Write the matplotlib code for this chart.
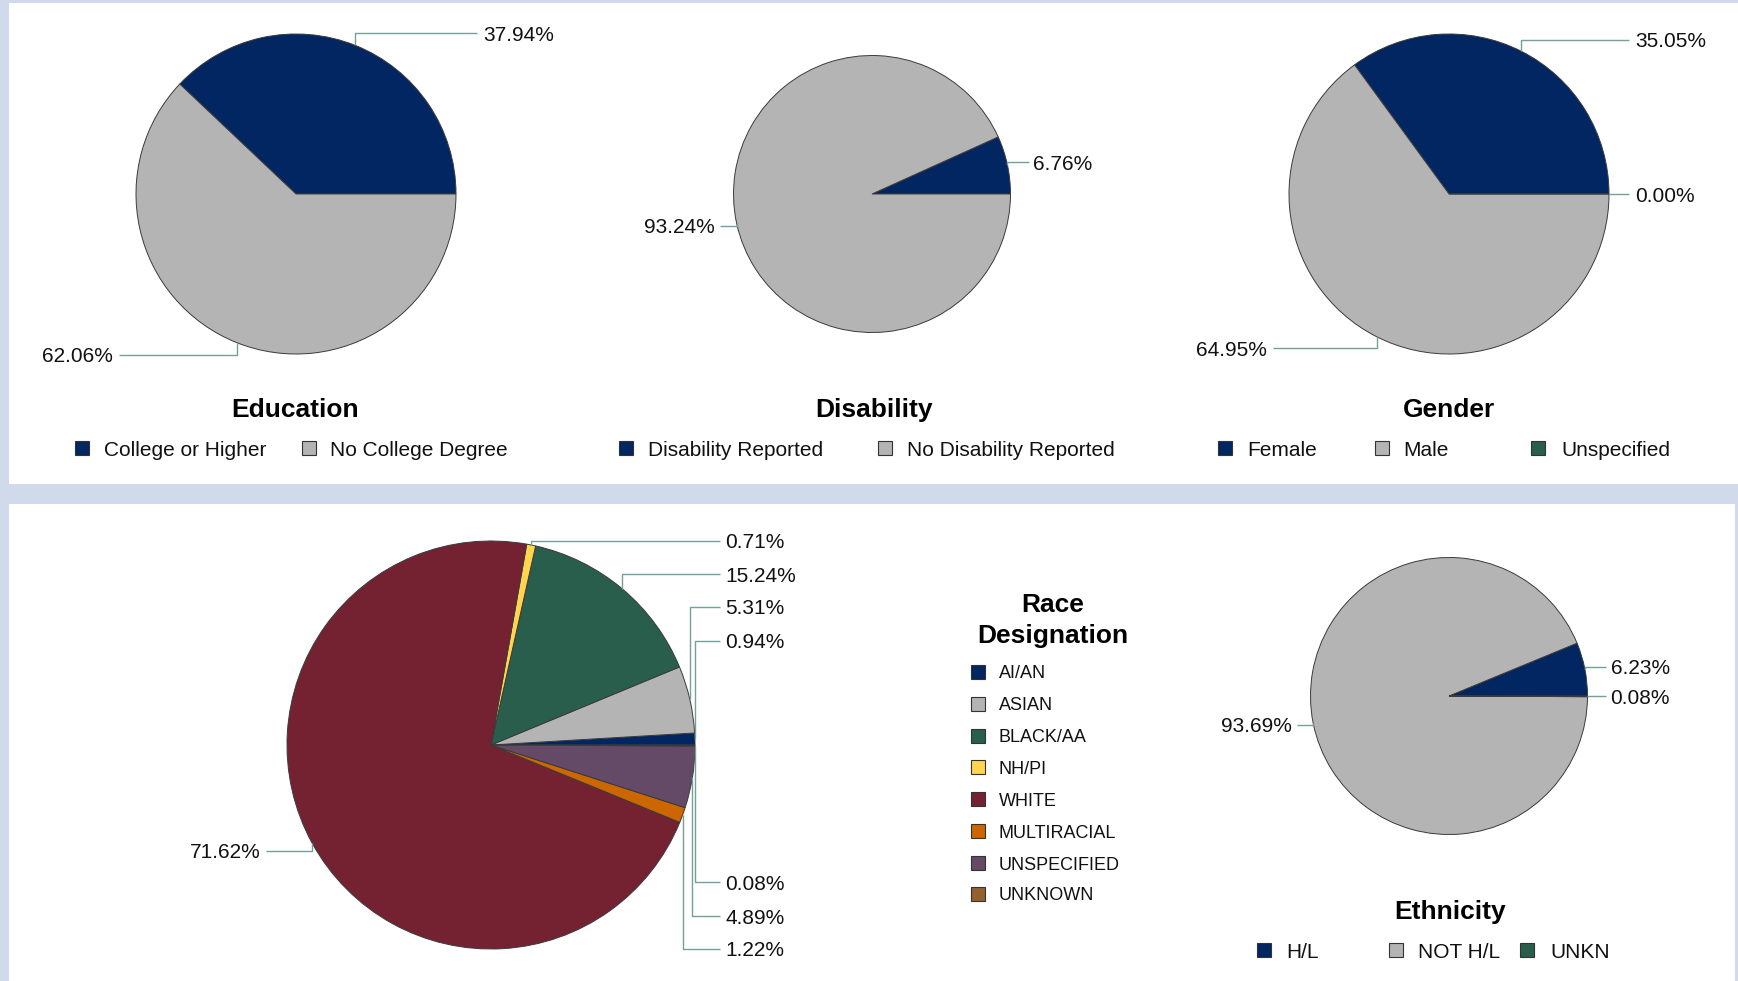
import numpy as np
import matplotlib
matplotlib.use('Agg')
import matplotlib.pyplot as plt
from matplotlib.patches import Rectangle

plt.rcParams['font.family'] = ['Liberation Sans', 'DejaVu Sans']

# ---------------- data ----------------
edu_labels = ['College or Higher', 'No College Degree']
edu_values = [37.94, 62.06]

dis_labels = ['Disability Reported', 'No Disability Reported']
dis_values = [6.76, 93.24]

gen_labels = ['Female', 'Male', 'Unspecified']
gen_values = [35.05, 64.95, 0.00]

race_labels = ['AI/AN', 'ASIAN', 'BLACK/AA', 'NH/PI', 'WHITE',
               'MULTIRACIAL', 'UNSPECIFIED', 'UNKNOWN']
race_values = [0.94, 5.31, 15.24, 0.71, 71.62, 1.22, 4.89, 0.08]

eth_labels = ['H/L', 'NOT H/L', 'UNKN']
eth_values = [6.23, 93.69, 0.08]

# ---------------- styles ----------------
NAVY = '#012661'
GRAY = '#b4b4b4'
GREEN = '#2a5e4c'
YELLOW = '#ffd54f'
MAROON = '#742232'
ORANGE = '#cc6600'
PURPLE = '#644a66'
BROWN = '#94602e'
LEAD = '#74a098'
EDGE = '#3a3a3a'
BG = '#d0daea'

two_cols = [NAVY, GRAY]
three_cols = [NAVY, GRAY, GREEN]
race_cols = [NAVY, GRAY, GREEN, YELLOW, MAROON, ORANGE, PURPLE, BROWN]

W, H = 1738, 981
TDY = 2  # text nudge downward (px)
LEFT_TRIM = 4  # left-side labels sit slightly closer to the pie
fig = plt.figure(figsize=(W / 100, H / 100), dpi=100)
fig.patch.set_facecolor(BG)
ax = fig.add_axes([0, 0, 1, 1])


def Y(y):
    return H - y


# panels
ax.add_patch(Rectangle((9, Y(484)), W - 9, 481, facecolor='white', edgecolor='none', zorder=0))
ax.add_patch(Rectangle((9, 0), W - 12, Y(504), facecolor='white', edgecolor='none', zorder=0))


def draw_pie(values, colors, cx, cy, r, line_gap=20, text_gap=25, label_ys=None):
    ax.pie(values, colors=colors, startangle=0, counterclock=True,
           center=(cx, Y(cy)), radius=r, normalize=True,
           wedgeprops=dict(edgecolor=EDGE, linewidth=0.7))
    total = float(sum(values))
    cum = np.concatenate([[0], np.cumsum(values)]) / total * 360.0
    for i, v in enumerate(values):
        mid = np.deg2rad((cum[i] + cum[i + 1]) / 2.0)
        ex = cx + r * np.cos(mid)
        ey = Y(cy) + r * np.sin(mid)
        if label_ys is not None and label_ys[i] is not None:
            ly = Y(label_ys[i])
        else:
            ly = Y(cy) + 1.08 * r * np.sin(mid)
        right = np.cos(mid) >= -1e-9
        if right:
            lend = cx + r + line_gap
            tx = cx + r + text_gap
            ha = 'left'
        else:
            lend = cx - r - line_gap + LEFT_TRIM
            tx = cx - r - text_gap + LEFT_TRIM
            ha = 'right'
        ax.plot([ex, ex, lend], [ey, ly, ly], color=LEAD, lw=1.0, zorder=5,
                solid_capstyle='butt')
        ax.text(tx, ly - TDY, f'{v:.2f}%', ha=ha, va='center', fontsize=15,
                color='#111111', zorder=6)


def legend_item(mx, y, tx, text, color, fs=15):
    s = 14
    ax.add_patch(Rectangle((mx - s / 2, Y(y) - s / 2), s, s, facecolor=color,
                           edgecolor='#333333', linewidth=0.8, zorder=6))
    ax.text(tx, Y(y) - TDY, text, ha='left', va='center', fontsize=fs, color='#111111', zorder=6)


def title(x, y, text):
    ax.text(x, Y(y) - TDY, text, ha='center', va='center', fontsize=19, fontweight='bold')


# Education
draw_pie(edu_values, two_cols, 296, 194, 160, line_gap=21, text_gap=27)
title(295, 408, 'Education')
for mx, tx, lab, c in zip([82, 309], [104, 330], edu_labels, two_cols):
    legend_item(mx, 448, tx, lab, c)

# Disability
draw_pie(dis_values, two_cols, 872, 194, 138.5, line_gap=18, text_gap=23)
title(874, 408, 'Disability')
for mx, tx, lab, c in zip([626, 885], [648, 907], dis_labels, two_cols):
    legend_item(mx, 448, tx, lab, c)

# Gender
draw_pie(gen_values, three_cols, 1449, 194, 160, line_gap=20, text_gap=26)
title(1449, 408, 'Gender')
for mx, tx, lab, c in zip([1225, 1382, 1538], [1247, 1403, 1561], gen_labels, three_cols):
    legend_item(mx, 448, tx, lab, c)

# Race
race_label_ys = [641, 607, 574, 541, 851, 949, 916, 882]
draw_pie(race_values, race_cols, 491, 745, 204, line_gap=25, text_gap=30,
         label_ys=race_label_ys)
title(1053, 603, 'Race')
title(1053, 634, 'Designation')
race_rows = [672, 704, 736, 767, 799, 831, 863, 894]
for y, lab, c in zip(race_rows, race_labels, race_cols):
    legend_item(978, y, 999, lab, c, fs=13)

# Ethnicity
eth_label_ys = [667, None, 696]
draw_pie(eth_values, three_cols, 1449, 696, 138.5, line_gap=18, text_gap=23,
         label_ys=eth_label_ys)
title(1450, 910, 'Ethnicity')
for mx, tx, lab, c in zip([1264, 1396, 1527], [1286, 1418, 1550], eth_labels, three_cols):
    legend_item(mx, 950, tx, lab, c)

ax.set_xlim(0, W)
ax.set_ylim(0, H)
ax.set_aspect('auto')
ax.axis('off')

fig.savefig('out.png', dpi=100, facecolor=fig.get_facecolor())
